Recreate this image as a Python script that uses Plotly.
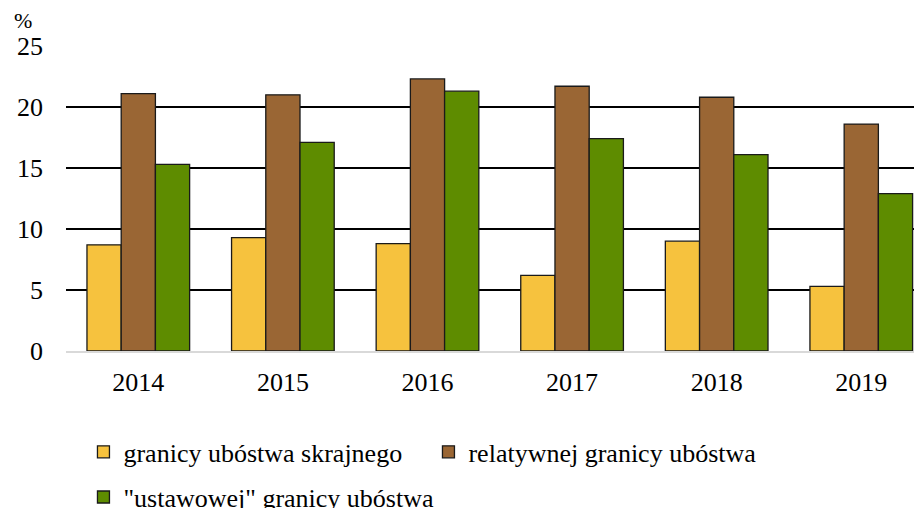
import plotly.graph_objects as go

years = ["2014", "2015", "2016", "2017", "2018", "2019"]
skrajne = [8.7, 9.3, 8.8, 6.2, 9.0, 5.3]
relatywne = [21.1, 21.0, 22.3, 21.7, 20.8, 18.6]
ustawowe = [15.3, 17.1, 21.3, 17.4, 16.1, 12.9]

names = ["granicy ubóstwa skrajnego", "relatywnej granicy ubóstwa", "\"ustawowej\" granicy ubóstwa"]
colors = ["#F6C23E", "#9A6634", "#5E8C00"]
legends = ["legend", "legend", "legend2"]

fig = go.Figure()
for vals, name, col, lg in zip([skrajne, relatywne, ustawowe], names, colors, legends):
    fig.add_trace(go.Bar(x=years, y=vals, name=name, legend=lg,
                         marker=dict(color=col, line=dict(color="#1a1a1a", width=1.3))))

font = "Liberation Serif, Times New Roman, serif"
fig.update_layout(
    width=914, height=500,
    margin=dict(l=58, r=0, t=38, b=157, autoexpand=False),
    paper_bgcolor="white", plot_bgcolor="white",
    barmode="group", bargap=0.29, bargroupgap=0,
    font=dict(family=font, size=26, color="black"),
    xaxis=dict(type="category", range=[-0.5, 5.42], showline=True, linecolor="#d9d9d9", linewidth=2,
               showgrid=False, ticks="", tickfont=dict(family=font, size=26), ticklabelstandoff=7),
    yaxis=dict(range=[0, 25], tickvals=[0, 5, 10, 15, 20, 25], showgrid=True, gridcolor="black", gridwidth=2,
               zeroline=False, ticks="", tickfont=dict(family=font, size=26), ticklabelstandoff=22),
    legend=dict(orientation="h", x=0.0204, y=-0.331, xanchor="left", yanchor="middle",
                font=dict(family=font, size=26), itemwidth=30, entrywidth=300, entrywidthmode="pixels"),
    legend2=dict(orientation="h", x=0.0204, y=-0.479, xanchor="left", yanchor="middle",
                 font=dict(family=font, size=26), itemwidth=30),
    showlegend=True,
)
fig.add_annotation(text="%", xref="paper", yref="paper", x=-0.0631, y=1.085, xanchor="left", yanchor="middle",
                   showarrow=False, font=dict(family=font, size=22))
fig.write_html("out.html")
